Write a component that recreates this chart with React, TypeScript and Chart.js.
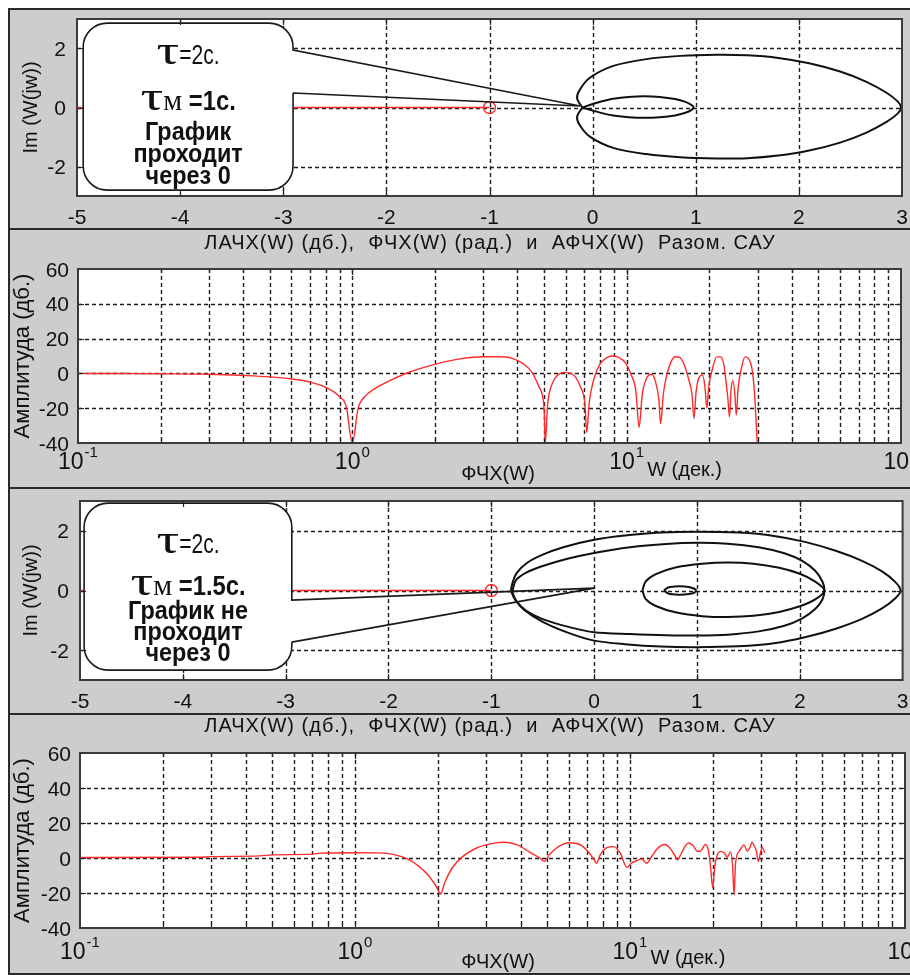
import React, { useEffect, useRef } from "react";
import { Chart, registerables } from "chart.js";

Chart.register(...registerables);

type Pt = [number, number];

// ---------------- DATA ----------------
const nyqXTicks = [-5, -4, -3, -2, -1, 0, 1, 2, 3];
const nyqYTicks = [-2, 0, 2];
const bodeYTicks = [-40, -20, 0, 20, 40, 60];
const bodeDecades = [0.1, 1, 10, 100];
const bodeDecadeExp = ["-1", "0", "1", "2"];
const bodeMinor = [0.2, 0.3, 0.4, 0.5, 0.6, 0.7, 0.8, 0.9, 2, 3, 4, 5, 6, 7, 8, 9, 20, 30, 40, 50, 60, 70, 80, 90];

const criticalLine: Pt[] = [[-5, 0], [-1, 0]];
const criticalPoint: Pt[] = [[-1, 0]];

// Nyquist, tau = 2 s, tau_m = 1 s
const nyq1Inner: Pt[] = [
  [-0.1, 0], [0, 0.12], [0.1, 0.22], [0.2, 0.3], [0.35, 0.36], [0.5, 0.38], [0.65, 0.36], [0.8, 0.29],
  [0.9, 0.19], [0.96, 0.08], [0.98, 0], [0.96, -0.08], [0.9, -0.18], [0.8, -0.27], [0.65, -0.33],
  [0.5, -0.35], [0.35, -0.33], [0.2, -0.27], [0.1, -0.2], [0, -0.1], [-0.1, 0],
];
const nyq1Outer: Pt[] = [
  [-0.1, 0], [-0.15, 0.3], [-0.13, 0.57], [-0.03, 1.0], [0.2, 1.41], [0.52, 1.64], [0.85, 1.75],
  [1.2, 1.79], [1.5, 1.77], [1.8, 1.68], [2.1, 1.5], [2.4, 1.22], [2.65, 0.88], [2.85, 0.5],
  [2.96, 0.2], [2.99, 0], [2.96, -0.2], [2.85, -0.49], [2.65, -0.86], [2.4, -1.19], [2.1, -1.46],
  [1.8, -1.63], [1.5, -1.72], [1.2, -1.73], [0.85, -1.69], [0.52, -1.58], [0.2, -1.37], [-0.03, -0.98],
  [-0.13, -0.57], [-0.15, -0.3], [-0.1, 0],
];

// Nyquist, tau = 2 s, tau_m = 1.5 s
const nyq2Outer: Pt[] = [
  [-0.81, 0], [-0.79, 0.3], [-0.75, 0.6], [-0.65, 0.93], [-0.5, 1.2], [-0.3, 1.45], [0, 1.7], [0.3, 1.84],
  [0.65, 1.94], [1.0, 1.97], [1.4, 1.94], [1.75, 1.83], [2.05, 1.63], [2.35, 1.33], [2.6, 1.0], [2.8, 0.64],
  [2.93, 0.28], [2.98, 0], [2.93, -0.26], [2.8, -0.6], [2.6, -0.96], [2.35, -1.28], [2.05, -1.57],
  [1.75, -1.77], [1.4, -1.87], [1.0, -1.9], [0.65, -1.88], [0.3, -1.8], [0, -1.68], [-0.25, -1.42],
  [-0.5, -1.05], [-0.68, -0.65], [-0.77, -0.3], [-0.81, 0],
];
const nyq2Second: Pt[] = [
  [-0.79, 0.05], [-0.76, 0.35], [-0.66, 0.6], [-0.5, 0.82], [-0.25, 1.07], [0, 1.26], [0.35, 1.45],
  [0.7, 1.56], [1.0, 1.6], [1.3, 1.57], [1.6, 1.45], [1.85, 1.25], [2.02, 1.0], [2.15, 0.66], [2.22, 0.3],
  [2.24, 0], [2.22, -0.3], [2.15, -0.62], [2.02, -0.94], [1.85, -1.18], [1.6, -1.37], [1.3, -1.48],
  [1.0, -1.51], [0.7, -1.5], [0.35, -1.46], [0, -1.4], [-0.25, -1.22], [-0.5, -0.96], [-0.66, -0.68],
  [-0.75, -0.38], [-0.79, -0.1], [-0.79, 0.05],
];
const nyq2Middle: Pt[] = [
  [0.47, 0], [0.5, 0.3], [0.6, 0.55], [0.8, 0.78], [1.05, 0.9], [1.3, 0.94], [1.55, 0.9], [1.8, 0.76],
  [2.0, 0.56], [2.15, 0.3], [2.24, 0], [2.15, -0.3], [2.0, -0.53], [1.8, -0.72], [1.55, -0.85], [1.3, -0.89],
  [1.05, -0.86], [0.8, -0.74], [0.6, -0.52], [0.5, -0.28], [0.47, 0],
];
const nyq2Small: Pt[] = [
  [0.68, 0], [0.72, 0.1], [0.82, 0.14], [0.92, 0.12], [0.98, 0.05], [0.99, 0], [0.98, -0.06],
  [0.92, -0.12], [0.82, -0.14], [0.72, -0.1], [0.68, 0],
];

// Bode magnitude, tau_m = 1 s
const bode1W = [
  0.1, 0.15, 0.2, 0.3, 0.4, 0.5, 0.6, 0.7, 0.8, 0.9, 0.95, 1.0, 1.05, 1.1, 1.2, 1.4, 1.6, 2.0, 2.5, 3.0,
  3.4, 3.8, 4.2, 4.5, 4.8, 5.0, 5.05, 5.15, 5.35, 5.6, 5.9, 6.2, 6.5, 6.8, 7.05, 7.15, 7.3, 7.6, 8.0, 8.5,
  8.9, 9.4, 9.9, 10.4, 10.8, 11.1, 11.4, 11.8, 12.3, 12.7, 13.1, 13.3, 13.6, 14.0, 14.5, 15.0, 15.6, 16.2,
  16.8, 17.3, 17.6, 17.9, 18.4, 18.9, 19.3, 19.6, 19.9, 20.5, 21.3, 22.0, 22.6, 23.0, 23.4, 23.7, 24.0,
  24.4, 24.8, 25.1, 25.5, 26.2, 27.0, 27.8, 28.6, 29.2, 29.7, 29.9,
];
const bode1Db = [
  0, -0.1, -0.2, -0.5, -1.2, -2, -3.2, -5, -8, -13.5, -19, -40, -20, -14, -9, -3.5, 0.5, 5.2, 8.5, 9.6,
  9.6, 8.8, 5.5, 1, -8, -20, -40, -18, -6, -1, 0.6, 0.3, -2, -8, -18, -34, -17, -3, 5.5, 9.2,
  10, 9, 6, -1, -10, -31, -12, -3, -0.5, -4, -15, -29, -12, -1, 6.5, 9.6, 9.2, 5,
  -3, -12, -26, -11, -2, -1, -8, -20, -8, 2, 9.5, 9.5, 5, -4, -15, -25, -10,
  -4, -12, -24, -8, 3, 9.5, 8.5, 3, -10, -30, -40,
];

// Bode magnitude, tau_m = 1.5 s
const bode2W = [
  0.1, 0.27, 0.3, 0.45, 0.5, 0.7, 0.75, 1.0, 1.2, 1.4, 1.55, 1.7, 1.85, 1.97, 2.05, 2.12, 2.25, 2.45, 2.8,
  3.2, 3.5, 3.9, 4.3, 4.7, 4.87, 5.1, 5.5, 6.0, 6.6, 7.1, 7.4, 7.55, 7.8, 8.2, 8.7, 9.2, 9.75, 10.1, 10.6,
  11.0, 11.5, 12.0, 12.6, 13.4, 14.0, 14.6, 14.9, 15.4, 16.3, 17.0, 17.5, 18.0, 18.8, 19.3, 19.6, 20.0,
  20.3, 20.6, 21.3, 22.0, 22.6, 23.2, 23.6, 23.9, 24.2, 25.0, 26.0, 26.7, 27.3, 27.8, 28.3, 28.8, 29.3,
  29.8, 30.3, 30.9,
];
const bode2Db = [
  0.3, 0.4, 0.8, 1.2, 1.8, 2.2, 2.8, 3.0, 2.9, 1.8, -0.5, -4.5, -10, -16, -20.5, -14, -6, 0.5, 6,
  8.5, 9, 7.5, 3.5, 0, -1.9, 2, 6.5, 8.7, 7.5, 3, -1, -3, 2, 5.8, 6.5, 3, -5.4, -3, -1.5,
  -0.5, -3, 1, 5.5, 7.7, 5.5, 1, -1, 3, 8.6, 7, 4, 3.8, 7.7, 4, -4, -17,
  -6, 0, 3.8, 3, 0.5, 3.5, -4, -21, -3, 4, 7.5, 4, 6, 9, 7, 4, -2,
  3, 6, 3,
];

const titleText = "ЛАЧХ(W) (дб.),  ФЧХ(W) (рад.)  и  АФЧХ(W)  Разом. САУ";
const xLabelMain = "ФЧХ(W)";
const xLabelUnit = "W (дек.)";
const imLabel = "Im (W(jw))";
const ampLabel = "Амплитуда (дб.)";
const callout1Text = { tau: "=2с.", tauM: " =1с.", lines: ["График", "проходит", "через 0"] };
const callout2Text = { tau: "=2с.", tauM: " =1.5с.", lines: ["График не", "проходит", "через 0"] };

// ---------------- LAYOUT / STYLE ----------------
const W = 910;
const SANS = '"Liberation Sans", Arial, sans-serif';
const SERIF = '"Liberation Serif", "Times New Roman", serif';
const GRID = "#1e1e1e";
const RED = "#ff2a2a";

type Callout = {
  left: number; right: number; top: number; bottom: number;
  tailUpper: number; tailLower: number; tipX: number; tipY: number;
  text: typeof callout1Text; baselines: number[];
};

type PanelDef = {
  kind: "nyq" | "bode";
  top: number; height: number;
  area: { l: number; r: number; t: number; b: number };
  callout?: Callout;
  bodeW?: number[]; bodeDb?: number[];
  nyqCurves?: Pt[][];
  labelOff?: { ten: number; main: number; unit: number; title: number };
};

const panels: PanelDef[] = [
  {
    kind: "nyq", top: 10, height: 219, area: { l: 77, r: 902, t: 19, b: 196 },
    nyqCurves: [nyq1Outer, nyq1Inner],
    callout: {
      left: -4.94, right: -2.905, top: 2.86, bottom: -2.8, tailUpper: 1.95, tailLower: 0.49,
      tipX: -0.12, tipY: 0.05, text: callout1Text, baselines: [41, 87, 117, 139, 161],
    },
  },
  {
    kind: "bode", top: 231, height: 257, area: { l: 78, r: 901, t: 269, b: 443 },
    bodeW: bode1W, bodeDb: bode1Db, labelOff: { ten: 26, main: 37, unit: 33, title: 18 },
  },
  {
    kind: "nyq", top: 490, height: 224, area: { l: 80, r: 907, t: 501, b: 680 },
    nyqCurves: [nyq2Outer, nyq2Second, nyq2Middle, nyq2Small],
    callout: {
      left: -4.96, right: -2.94, top: 2.93, bottom: -2.67, tailUpper: -0.32, tailLower: -1.73,
      tipX: 0.0, tipY: 0.08, text: callout2Text, baselines: [50, 92, 116, 137, 158],
    },
  },
  {
    kind: "bode", top: 716, height: 259, area: { l: 80, r: 905, t: 753, b: 928 },
    bodeW: bode2W, bodeDb: bode2Db, labelOff: { ten: 31, main: 40, unit: 36, title: 16 },
  },
];

type Seg = { t: string; f: string; sx?: number; dy?: number };
function drawRich(ctx: CanvasRenderingContext2D, segs: Seg[], cx: number, base: number) {
  const ws = segs.map((s) => {
    ctx.font = s.f;
    return ctx.measureText(s.t).width * (s.sx ?? 1);
  });
  const total = ws.reduce((a, b) => a + b, 0);
  let x = cx - total / 2;
  segs.forEach((s, i) => {
    ctx.save();
    ctx.font = s.f;
    ctx.translate(x, base + (s.dy ?? 0));
    ctx.scale(s.sx ?? 1, 1);
    ctx.fillText(s.t, 0, 0);
    ctx.restore();
    x += ws[i];
  });
}

function makePlugin(p: PanelDef) {
  return {
    id: "panelDeco",
    beforeDatasetsDraw(chart: any) {
      const { ctx, chartArea: a, scales } = chart;
      const sx = (v: number) => scales.x.getPixelForValue(v);
      const sy = (v: number) => scales.y.getPixelForValue(v);
      ctx.save();
      ctx.fillStyle = "#ffffff";
      ctx.fillRect(a.left, a.top, a.right - a.left, a.bottom - a.top);
      ctx.strokeStyle = GRID;
      ctx.lineWidth = 1.4;
      ctx.setLineDash([4, 3]);
      const gx = p.kind === "nyq" ? nyqXTicks.slice(1, -1) : [...bodeMinor, 1, 10];
      const gy = p.kind === "nyq" ? nyqYTicks : bodeYTicks.slice(1, -1);
      ctx.beginPath();
      gx.forEach((v) => {
        const x = Math.round(sx(v)) + 0.5;
        ctx.moveTo(x, a.top);
        ctx.lineTo(x, a.bottom);
      });
      gy.forEach((v) => {
        const y = Math.round(sy(v)) + 0.5;
        ctx.moveTo(a.left, y);
        ctx.lineTo(a.right, y);
      });
      ctx.stroke();
      ctx.restore();
    },
    afterDatasetsDraw(chart: any) {
      const { ctx, chartArea: a, scales } = chart;
      const sx = (v: number) => scales.x.getPixelForValue(v);
      const sy = (v: number) => scales.y.getPixelForValue(v);
      ctx.save();

      // callout
      if (p.callout) {
        const c = p.callout;
        const L = sx(c.left), R = sx(c.right), T = sy(c.top), B = sy(c.bottom);
        const r = 24;
        const tu = sy(c.tailUpper), tl = sy(c.tailLower), tx = sx(c.tipX), ty = sy(c.tipY);
        ctx.beginPath();
        ctx.moveTo(L + r, T);
        ctx.lineTo(R - r, T);
        ctx.arcTo(R, T, R, T + r, r);
        ctx.lineTo(R, B - r);
        ctx.arcTo(R, B, R - r, B, r);
        ctx.lineTo(L + r, B);
        ctx.arcTo(L, B, L, B - r, r);
        ctx.lineTo(L, T + r);
        ctx.arcTo(L, T, L + r, T, r);
        ctx.closePath();
        ctx.fillStyle = "#ffffff";
        ctx.fill();
        ctx.beginPath();
        ctx.moveTo(R, tl);
        ctx.lineTo(R, B - r);
        ctx.arcTo(R, B, R - r, B, r);
        ctx.lineTo(L + r, B);
        ctx.arcTo(L, B, L, B - r, r);
        ctx.lineTo(L, T + r);
        ctx.arcTo(L, T, L + r, T, r);
        ctx.lineTo(R - r, T);
        ctx.arcTo(R, T, R, T + r, r);
        ctx.lineTo(R, tu);
        ctx.lineTo(tx, ty);
        ctx.lineTo(R, tl);
        ctx.strokeStyle = "#1a1a1a";
        ctx.lineWidth = 1.6;
        ctx.stroke();

        const cx = (L + R) / 2;
        const bl = c.baselines.map((b) => T + b);
        ctx.fillStyle = "#111";
        ctx.textAlign = "left";
        ctx.textBaseline = "alphabetic";
        drawRich(ctx, [
          { t: "τ", f: `42px ${SERIF}`, sx: 1.35 },
          { t: c.text.tau, f: `27px ${SANS}`, sx: 0.78 },
        ], cx, bl[0]);
        drawRich(ctx, [
          { t: "τ", f: `42px ${SERIF}`, sx: 1.35 },
          { t: "м", f: `30px ${SERIF}` },
          { t: c.text.tauM, f: `bold 27px ${SANS}`, sx: 0.88 },
        ], cx, bl[1]);
        c.text.lines.forEach((ln, i) => {
          drawRich(ctx, [{ t: ln, f: `bold 26px ${SANS}`, sx: 0.9 }], cx, bl[2 + i]);
        });
      }

      // tick marks
      ctx.strokeStyle = "#222";
      ctx.lineWidth = 1.2;
      ctx.setLineDash([]);
      ctx.beginPath();
      const majX = p.kind === "nyq" ? nyqXTicks.slice(1, -1) : [1, 10];
      const minX = p.kind === "nyq" ? [] : bodeMinor;
      const majY = p.kind === "nyq" ? nyqYTicks : bodeYTicks.slice(1, -1);
      majX.forEach((v) => {
        const x = Math.round(sx(v)) + 0.5;
        ctx.moveTo(x, a.bottom); ctx.lineTo(x, a.bottom - 6);
        ctx.moveTo(x, a.top); ctx.lineTo(x, a.top + 6);
      });
      minX.forEach((v) => {
        const x = Math.round(sx(v)) + 0.5;
        ctx.moveTo(x, a.bottom); ctx.lineTo(x, a.bottom - 4);
        ctx.moveTo(x, a.top); ctx.lineTo(x, a.top + 4);
      });
      majY.forEach((v) => {
        const y = Math.round(sy(v)) + 0.5;
        ctx.moveTo(a.left, y); ctx.lineTo(a.left + 6, y);
        ctx.moveTo(a.right, y); ctx.lineTo(a.right - 6, y);
      });
      ctx.stroke();

      // plot box
      ctx.strokeStyle = "#3a3a3a";
      ctx.lineWidth = 2;
      ctx.strokeRect(a.left, a.top, a.right - a.left, a.bottom - a.top);

      // tick labels
      ctx.fillStyle = "#111";
      if (p.kind === "nyq") {
        ctx.font = `21px ${SANS}`;
        ctx.textAlign = "center";
        ctx.textBaseline = "alphabetic";
        nyqXTicks.forEach((v) => ctx.fillText(String(v), sx(v), a.bottom + 28));
        ctx.textAlign = "right";
        nyqYTicks.forEach((v) => ctx.fillText(String(v), a.left - 11, sy(v) + 7.5));
        ctx.save();
        ctx.translate(31, (a.top + a.bottom) / 2);
        ctx.rotate(-Math.PI / 2);
        ctx.textAlign = "center";
        ctx.textBaseline = "middle";
        ctx.font = `20px ${SANS}`;
        ctx.fillText(imLabel, 0, 0);
        ctx.restore();
      } else {
        const lo = p.labelOff!;
        ctx.font = `21px ${SANS}`;
        ctx.textAlign = "right";
        ctx.textBaseline = "alphabetic";
        bodeYTicks.forEach((v) => ctx.fillText(String(v), a.left - 9, sy(v) + 7.5));
        ctx.textAlign = "left";
        let unitX = 0;
        bodeDecades.forEach((v, i) => {
          ctx.font = `23px ${SANS}`;
          const wTen = ctx.measureText("10").width;
          ctx.font = `15px ${SANS}`;
          const wExp = ctx.measureText(bodeDecadeExp[i]).width;
          const x0 = sx(v) - (wTen + wExp + 1) / 2;
          ctx.font = `23px ${SANS}`;
          ctx.fillText("10", x0, a.bottom + lo.ten);
          ctx.font = `15px ${SANS}`;
          ctx.fillText(bodeDecadeExp[i], x0 + wTen + 1, a.bottom + lo.ten - 12);
          if (v === 10) unitX = x0 + wTen + wExp + 4;
        });
        ctx.font = `20px ${SANS}`;
        ctx.fillText(xLabelUnit, unitX, a.bottom + lo.unit);
        ctx.textAlign = "center";
        ctx.fillText(xLabelMain, 498, a.bottom + lo.main);
        ctx.font = `20px ${SANS}`;
        (ctx as any).letterSpacing = "1px";
        ctx.fillText(titleText, 490, lo.title);
        (ctx as any).letterSpacing = "0px";
        ctx.save();
        ctx.translate(23, (a.top + a.bottom) / 2);
        ctx.rotate(-Math.PI / 2);
        ctx.textAlign = "center";
        ctx.textBaseline = "middle";
        ctx.font = `22px ${SANS}`;
        ctx.fillText(ampLabel, 0, 0);
        ctx.restore();
      }
      ctx.restore();
    },
  };
}

function buildConfig(p: PanelDef): any {
  const datasets: any[] = [];
  if (p.kind === "nyq") {
    (p.nyqCurves || []).forEach((c) =>
      datasets.push({
        data: c.map(([x, y]) => ({ x, y })), showLine: true, borderColor: "#111",
        borderWidth: 2, pointRadius: 0, tension: 0.3, fill: false,
      })
    );
    datasets.push({
      data: criticalLine.map(([x, y]) => ({ x, y })), showLine: true, borderColor: RED,
      borderWidth: 1.6, pointRadius: 0, fill: false,
    });
    datasets.push({
      data: criticalPoint.map(([x, y]) => ({ x, y })), showLine: false, pointRadius: 6,
      pointStyle: "circle", borderColor: RED, backgroundColor: "rgba(0,0,0,0)", pointBorderWidth: 1.4,
    });
  } else {
    datasets.push({
      data: p.bodeW!.map((w, i) => ({ x: w, y: p.bodeDb![i] })), showLine: true, borderColor: RED,
      borderWidth: 1.4, pointRadius: 0, cubicInterpolationMode: "monotone", fill: false,
    });
  }
  const top = p.top, h = p.height, ar = p.area;
  return {
    type: "scatter",
    data: { datasets },
    options: {
      responsive: false,
      animation: false,
      devicePixelRatio: 1,
      events: [],
      layout: { padding: { left: 0, right: W - ar.r, top: ar.t - top, bottom: 0 } },
      plugins: { legend: { display: false }, tooltip: { enabled: false }, title: { display: false } },
      scales: {
        x: {
          type: p.kind === "nyq" ? "linear" : "logarithmic",
          min: p.kind === "nyq" ? -5 : 0.1,
          max: p.kind === "nyq" ? 3 : 100,
          grid: { display: false }, border: { display: false }, ticks: { display: false },
          afterFit: (s: any) => { s.height = top + h - ar.b; },
        },
        y: {
          type: "linear",
          min: p.kind === "nyq" ? -3 : -40,
          max: p.kind === "nyq" ? 3 : 60,
          grid: { display: false }, border: { display: false }, ticks: { display: false },
          afterFit: (s: any) => { s.width = ar.l; },
        },
      },
    },
    plugins: [makePlugin(p)],
  };
}

function Panel({ p }: { p: PanelDef }) {
  const ref = useRef<HTMLCanvasElement>(null);
  useEffect(() => {
    const chart = new Chart(ref.current as HTMLCanvasElement, buildConfig(p));
    return () => chart.destroy();
  }, []);
  return (
    <canvas
      ref={ref}
      width={W}
      height={p.height}
      style={{ position: "absolute", left: 0, top: p.top, width: W, height: p.height, display: "block" }}
    />
  );
}

const line = (s: React.CSSProperties): React.CSSProperties => ({ position: "absolute", background: "#2a2a2a", ...s });

export default function App() {
  return (
    <div style={{ position: "absolute", left: 0, top: 0, width: W, height: 975, overflow: "hidden", background: "#fff" }}>
      <div style={{ position: "absolute", left: 8, top: 8, width: 902, height: 967, background: "#cdcdcd" }} />
      <div style={line({ left: 8, top: 8, width: 902, height: 2 })} />
      <div style={line({ left: 8, top: 8, width: 2, height: 967 })} />
      <div style={line({ left: 8, top: 228, width: 902, height: 2 })} />
      <div style={line({ left: 8, top: 487, width: 902, height: 2 })} />
      <div style={line({ left: 8, top: 713, width: 902, height: 2 })} />
      <div style={line({ left: 8, top: 973, width: 902, height: 2 })} />
      {panels.map((p, i) => (
        <Panel key={i} p={p} />
      ))}
    </div>
  );
}
